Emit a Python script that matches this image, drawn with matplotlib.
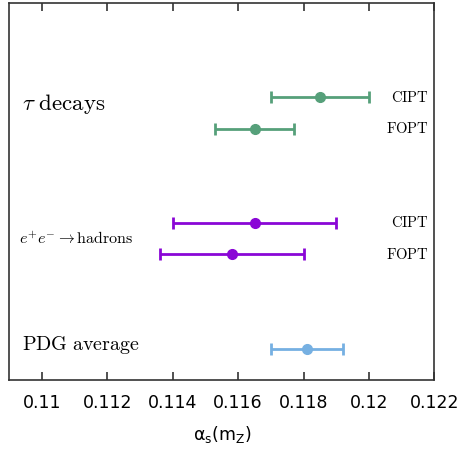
import numpy as np
import matplotlib
matplotlib.use("Agg")
import matplotlib.pyplot as plt

# central values and symmetric errors
methods = ["CIPT", "FOPT", "CIPT", "FOPT", "PDG"]
alpha_s = [0.1185, 0.1165, 0.1165, 0.1158, 0.1181]
err = [0.0015, 0.0012, 0.0025, 0.0022, 0.0011]
ypos = [9, 8, 5, 4, 1]
colors = ["#56a07a", "#56a07a", "#8a06d6", "#8a06d6", "#76b0e2"]

xticks = [0.11, 0.112, 0.114, 0.116, 0.118, 0.12, 0.122]
xtick_labels = ["0.11", "0.112", "0.114", "0.116", "0.118", "0.12", "0.122"]

fig = plt.figure(figsize=(4.61, 4.5), dpi=100)
ax = fig.add_axes([0.0202, 0.1556, 0.9219, 0.8377])

for x, e, y, c in zip(alpha_s, err, ypos, colors):
    ax.errorbar(x, y, xerr=e, fmt="o", color=c, ecolor=c, elinewidth=2,
                capsize=4, capthick=2, markersize=7)

# method tags on the right
for m, y in zip(methods, ypos):
    if m == "PDG":
        continue
    ax.text(0.12182, y, r"$\mathrm{%s}$" % m, ha="right", va="center",
            fontsize=10.5, math_fontfamily="cm")

ax.text(0.1094, 8.8, r"$\tau\ \mathrm{decays}$", ha="left", va="center",
        fontsize=16.5, math_fontfamily="cm")
ax.text(0.1093, 4.5, r"$e^{+}e^{-}\rightarrow \mathrm{hadrons}$", ha="left",
        va="center", fontsize=11.5, math_fontfamily="cm")
ax.text(0.1094, 1.1, r"$\mathrm{PDG\ average}$", ha="left", va="center",
        fontsize=14.4, math_fontfamily="cm")

ax.set_xlim(0.109, 0.122)
ax.set_ylim(0, 12)
ax.set_yticks([])
ax.set_xticks(xticks)
ax.set_xticklabels(xtick_labels, fontsize=12.5)
ax.tick_params(axis="x", direction="in", length=6, width=1.2, top=True,
               pad=10, color="#333333")
for s in ax.spines.values():
    s.set_linewidth(1.2)
    s.set_color("#333333")

ax.set_xlabel(r"$\mathrm{\alpha_s(m_Z)}$", fontsize=12.5, labelpad=9)

fig.savefig("out.png", dpi=100)
